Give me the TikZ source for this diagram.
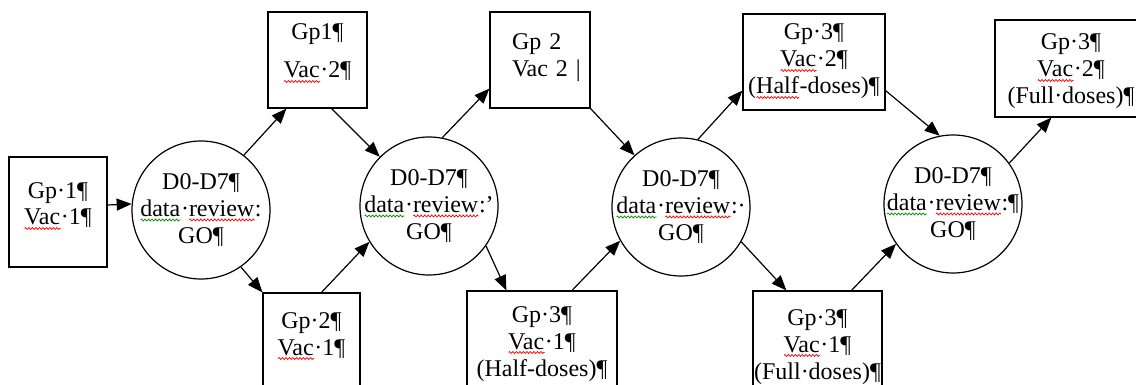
\documentclass[tikz,border=0pt]{standalone}
\usepackage{fontspec}
\setmainfont{Liberation Serif}
\usetikzlibrary{arrows.meta,decorations.pathmorphing}
\tikzstyle{groupBox}=[draw, line width=1.2pt, inner sep=0pt, align=center, font=\fontsize{24}{27}\selectfont]
\tikzstyle{reviewNode}=[draw, circle, line width=1.2pt, minimum size=138pt, inner sep=-5pt, align=center, font=\fontsize{24}{27}\selectfont]
\tikzstyle{flowArrow}=[-{Triangle[length=15pt,width=12pt]}, line width=1.2pt]

\newlength{\waveLen}
\newcommand{\squiggle}[2]{\leavevmode\settowidth{\waveLen}{#2}\rlap{#2}\raisebox{-3.5pt}[0pt][0pt]{\tikz[baseline=0pt]\draw[#1, line width=0.7pt, -, decorate, decoration={zigzag, amplitude=1pt, segment length=3.5pt}] (0pt,0pt) -- (\waveLen,0pt);}}

\begin{document}
\begin{tikzpicture}[x=1pt, y=-1pt]
	\useasboundingbox (0,0) rectangle (1136,385);

	\node[groupBox, text width=98pt, text height=41pt, text depth=69pt] (g1v1) at (58,212) {Gp·1¶\\\squiggle{red}{Vac}·1¶};
	\node[groupBox, text width=99pt, text height=28pt, text depth=68pt] (g1v2) at (317.5,60) {Gp1¶\\[11pt]\squiggle{red}{Vac}·2¶};
	\node[groupBox, text width=97pt, text height=35pt, text depth=72pt] (g2v1) at (311.5,346.5) {Gp·2¶\\\squiggle{red}{Vac}·1¶};
	\node[groupBox, align=left, text width=100pt, text height=38pt, text depth=58pt] (g2v2) at (540,60) {\hspace*{22pt}Gp 2\\\hspace*{22pt}Vac 2 |};
	\node[groupBox, text width=150pt, text height=31pt, text depth=78pt] (g3v1h) at (542,345.5) {Gp·3¶\\\squiggle{red}{Vac}·1¶\\(Half-doses)¶};
	\node[groupBox, text width=142pt, text height=26pt, text depth=70pt] (g3v2h) at (814,62) {Gp·3¶\\\squiggle{red}{Vac}·2¶\\(\squiggle{red}{Half}-doses)¶};
	\node[groupBox, text width=129pt, text height=34pt, text depth=75pt] (g3v1f) at (817.5,345.5) {Gp·3¶\\\squiggle{red}{Vac}·1¶\\(Full·doses)¶};
	\node[groupBox, text width=152pt, text height=30pt, text depth=67pt] (g3v2f) at (1071,68.5) {Gp·3¶\\\squiggle{red}{Vac}·2¶\\(Full·doses)¶};

	\node[reviewNode] (r1) at (201,210) {D0-D7¶\\\squiggle{green!55!black}{data}·\squiggle{red}{review}:\\GO¶};
	\node[reviewNode] (r2) at (429,206) {D0-D7¶\\\squiggle{green!55!black}{data}·\squiggle{red}{review}:'\\GO¶};
	\node[reviewNode] (r3) at (681,207) {D0-D7¶\\\squiggle{green!55!black}{data}·\squiggle{red}{review}:·\\GO¶};
	\node[reviewNode] (r4) at (953,204) {D0-D7¶\\\squiggle{green!55!black}{data}·\squiggle{red}{review}:¶\\GO¶};

	\draw[flowArrow] ([yshift=7pt]g1v1.east) -- (r1.175);
	\draw[flowArrow] (r1.52) -- ([xshift=19pt]g1v2.south west);
	\draw[flowArrow] (r1.-55) -- (g2v1.north west);

	\draw[flowArrow] ([xshift=14pt]g1v2.south) -- (r2.135);
	\draw[flowArrow] ([xshift=10pt]g2v1.north) -- (r2.211);
	\draw[flowArrow] (r2.79) -- ([yshift=20pt]g2v2.south west);
	\draw[flowArrow] (r2.-35) -- ([xshift=40pt]g3v1h.north west);

	\draw[flowArrow] (g2v2.south east) -- (r3.132);
	\draw[flowArrow] ([xshift=30pt]g3v1h.north) -- (r3.209);
	\draw[flowArrow] (r3.76) -- ([yshift=20pt]g3v2h.south west);
	\draw[flowArrow] (r3.-30) -- ([xshift=34pt]g3v1f.north west);

	\draw[flowArrow] ([yshift=20pt]g3v2h.south east) -- (r4.101);
	\draw[flowArrow] ([xshift=34pt]g3v1f.north) -- (r4.215);
	\draw[flowArrow] (r4.36) -- ([xshift=57pt]g3v2f.south west);
\end{tikzpicture}
\end{document}
